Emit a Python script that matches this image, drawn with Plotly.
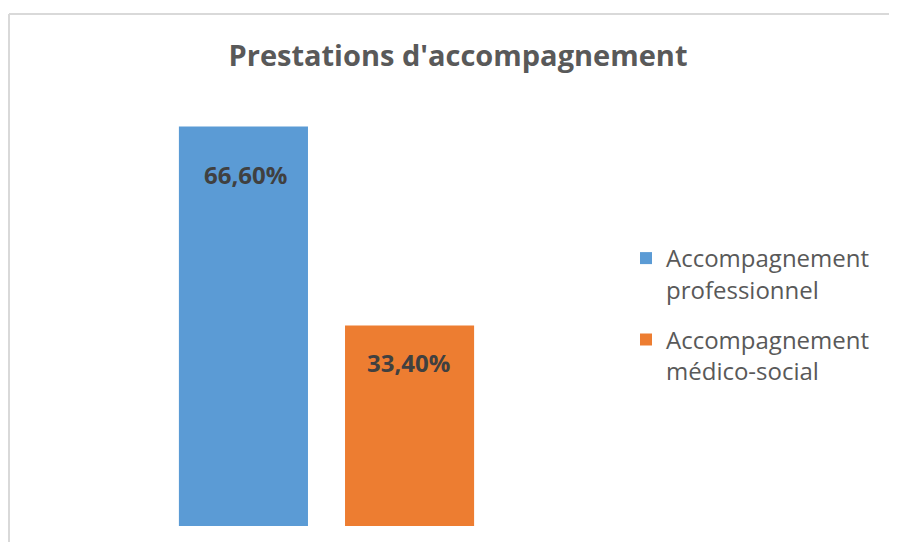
import plotly.graph_objects as go

# page body has an 8px margin: figure drawn 8px in from the top-left corner
OFF = 8
W, H = 897 - OFF, 542 - OFF

category = ["Prestations d'accompagnement"]
series_names = ["Accompagnement<br>professionnel", "Accompagnement<br>médico-social"]
series_values = [66.6, 33.4]
series_labels = ["66,60%", "33,40%"]
colors = ["#5B9BD5", "#ED7D31"]

FONT = "Open Sans, Lato, sans-serif"


def px(x):
    return (x - OFF) / W


def py(y):
    return 1 - (y - OFF) / H


fig = go.Figure()
for i, (name, val, col) in enumerate(zip(series_names, series_values, colors)):
    fig.add_trace(go.Bar(x=category, y=[val], name=name, legendgroup=f"g{i}",
                         marker=dict(color=col, line=dict(width=0))))

# data labels inside the top of each bar
label_shift = [-48, -37]
for i, (val, lab) in enumerate(zip(series_values, series_labels)):
    fig.add_annotation(x=category[0], y=val, text=f"<b>{lab}</b>", showarrow=False,
                       xref="x", yref="y", yshift=label_shift[i], xshift=(-81 if i == 0 else 82),
                       font=dict(family=FONT, size=24, color="#404040"))

fig.update_layout(
    width=W, height=H,
    margin=dict(l=0, r=0, t=0, b=0),
    paper_bgcolor="white", plot_bgcolor="white",
    barmode="group", bargap=0.458, bargroupgap=0.223,
    title=dict(text="<b>Prestations d'accompagnement</b>", x=px(458), xanchor="center",
               y=py(56), yanchor="middle",
               font=dict(family=FONT, size=29, color="#595959")),
    xaxis=dict(domain=[px(20), px(633)], visible=False),
    yaxis=dict(domain=[py(526), py(106)], range=[0, 70], visible=False),
    showlegend=True,
    legend=dict(x=px(626), y=py(236), xanchor="left", yanchor="top", valign="top",
                font=dict(family=FONT, size=24, color="#595959"),
                tracegroupgap=16, itemwidth=30, bgcolor="rgba(0,0,0,0)"),
    shapes=[
        dict(type="line", xref="paper", yref="paper", x0=px(9), x1=1.01, y0=py(14), y1=py(14),
             line=dict(color="#D9D9D9", width=2)),
        dict(type="line", xref="paper", yref="paper", x0=px(9), x1=px(9), y0=-0.01, y1=py(14),
             line=dict(color="#D9D9D9", width=2)),
    ],
)

fig.write_html("out.html")
